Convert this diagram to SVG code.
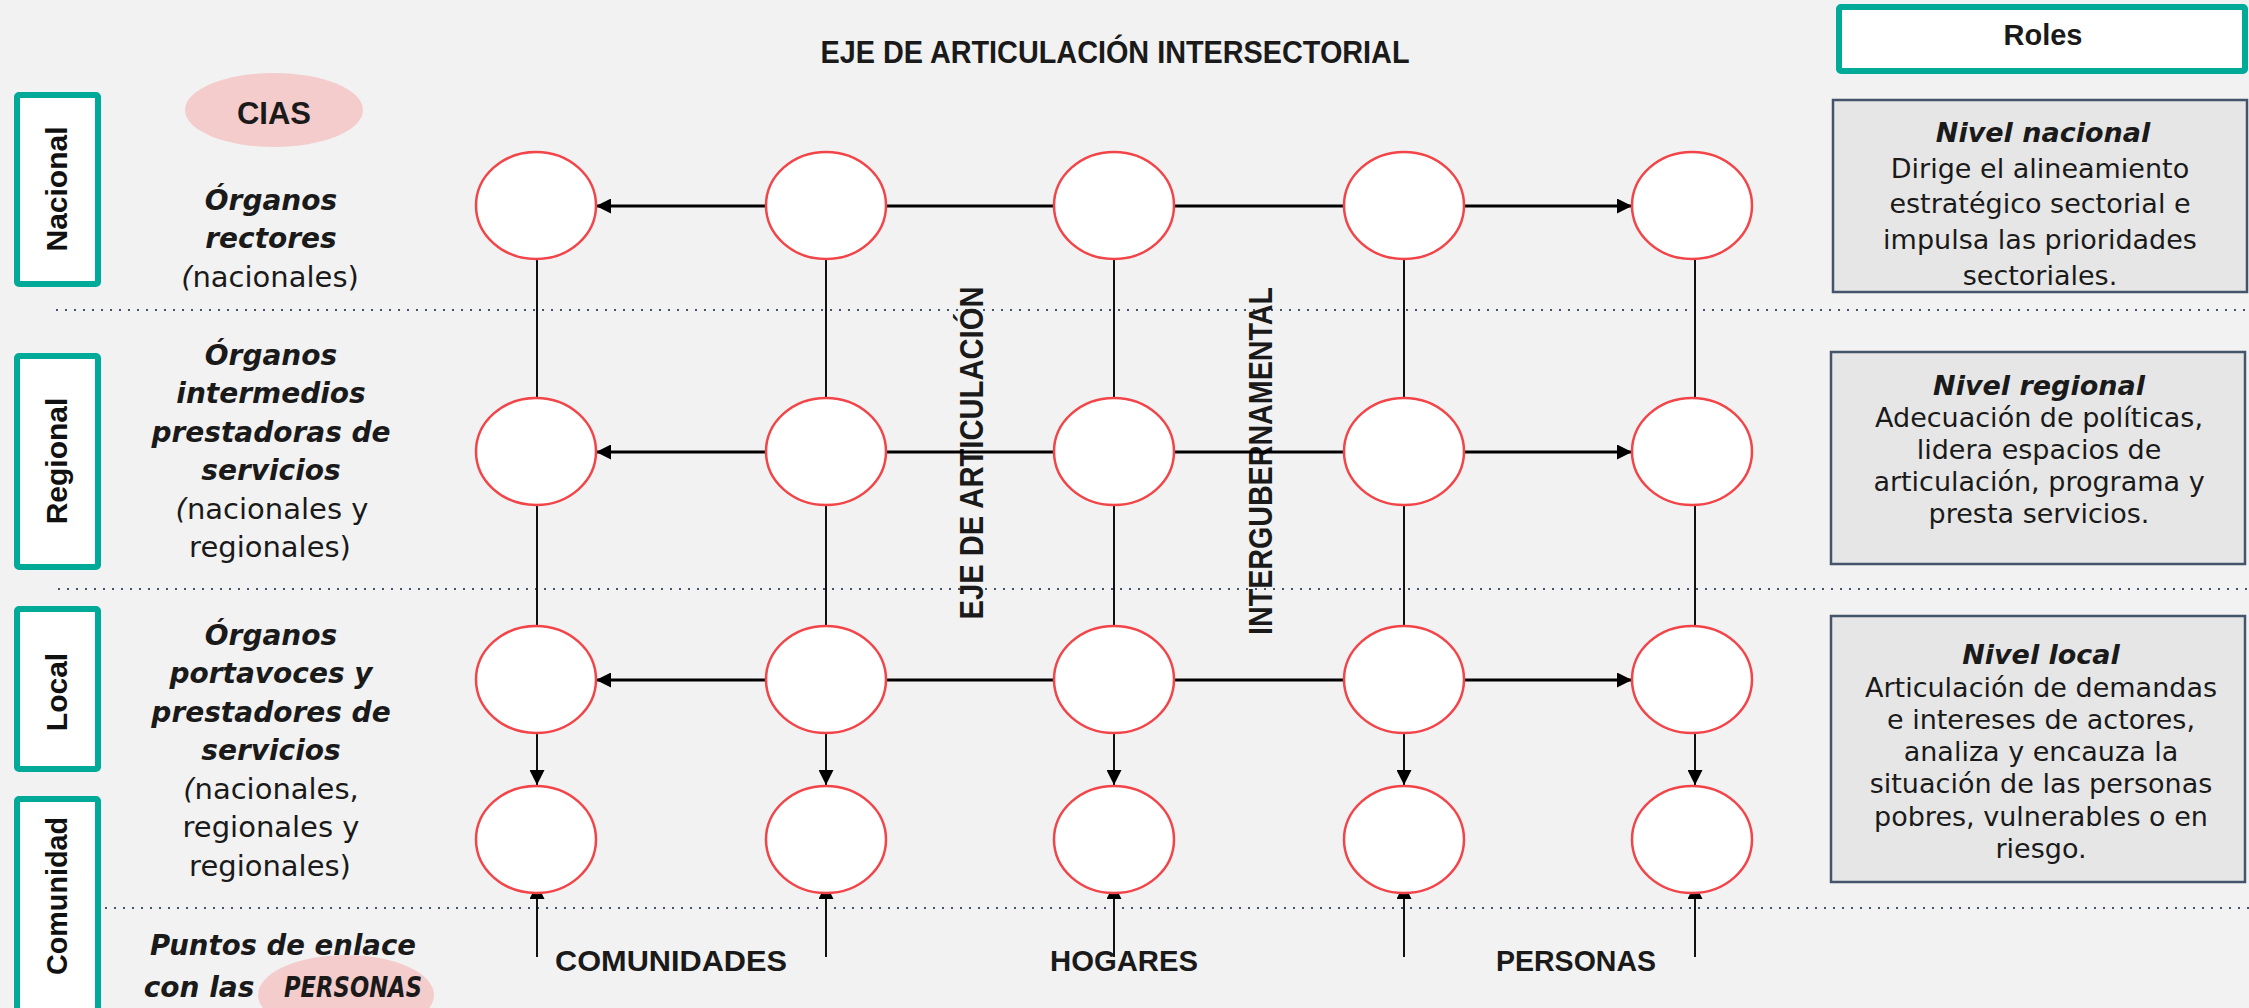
<svg xmlns="http://www.w3.org/2000/svg" width="2249" height="1008" viewBox="0 0 2249 1008">
<defs>
<style>
.lvl{fill:#FFFFFF;stroke:#00AA99;stroke-width:6}
.lvltxt{font-family:"Liberation Sans",Arial,sans-serif;font-weight:bold;font-size:30px;fill:#111111;text-anchor:middle}
.node{fill:#FFFFFF;stroke:#F24549;stroke-width:2.5}
.sep{stroke:#44546A;stroke-width:2.2;stroke-dasharray:2 7;fill:none}
.h{stroke:#000000;stroke-width:3;fill:none}
.v{stroke:#111111;stroke-width:2;fill:none}
.lbl{font-family:"DejaVu Sans",sans-serif;font-size:28px;fill:#1A1A1A;text-anchor:middle}
.bi{font-weight:bold;font-style:italic}
.rg{font-size:29px}
.cap{font-family:"Liberation Sans",Arial,sans-serif;font-weight:bold;fill:#1A1A1A;text-anchor:middle}
.role{fill:#E6E6E6;stroke:#44546A;stroke-width:2.5}
.rt{font-family:"DejaVu Sans",sans-serif;font-size:27px;fill:#1A1A1A;text-anchor:middle}
.pink{fill:#F4CCCC}
</style>
<marker id="ah" viewBox="0 0 15 15" refX="15" refY="7.5" markerWidth="15" markerHeight="15" markerUnits="userSpaceOnUse" orient="auto-start-reverse"><path d="M0,0 L15,7.5 L0,15 z" fill="#000000"/></marker>
</defs>
<rect x="0" y="0" width="2249" height="1008" fill="#F2F2F2"/>

<g id="title">
<text class="cap" x="1115" y="63" font-size="32" textLength="589" lengthAdjust="spacingAndGlyphs">EJE DE ARTICULACIÓN INTERSECTORIAL</text>
</g>

<g id="separators">
<path class="sep" d="M56,310 H2249"/>
<path class="sep" d="M58,589 H2249"/>
<path class="sep" d="M105,908 H2249"/>
</g>

<g id="level-nacional">
<rect class="lvl" x="17" y="95" width="81" height="189" rx="2"/>
<text class="lvltxt" transform="translate(67,189) rotate(-90)">Nacional</text>
</g>
<g id="level-regional">
<rect class="lvl" x="17" y="356" width="81" height="211" rx="2"/>
<text class="lvltxt" transform="translate(67,461) rotate(-90)">Regional</text>
</g>
<g id="level-local">
<rect class="lvl" x="17" y="609" width="81" height="160" rx="2"/>
<text class="lvltxt" transform="translate(67,692) rotate(-90)">Local</text>
</g>
<g id="level-comunidad">
<rect class="lvl" x="17" y="799" width="81" height="220" rx="2"/>
<text class="lvltxt" transform="translate(67,896) rotate(-90)" textLength="158" lengthAdjust="spacingAndGlyphs">Comunidad</text>
</g>

<g id="cias">
<ellipse class="pink" cx="274" cy="110" rx="89" ry="37"/>
<text class="cap" x="274" y="124" font-size="31">CIAS</text>
</g>

<g id="label-nacional">
<text class="lbl bi" x="271" y="210">Órganos</text>
<text class="lbl bi" x="271" y="248">rectores</text>
<text class="lbl rg" x="270" y="287"><tspan font-style="italic">(</tspan>nacionales)</text>
</g>
<g id="label-regional">
<text class="lbl bi" x="271" y="365">Órganos</text>
<text class="lbl bi" x="271" y="403">intermedios</text>
<text class="lbl bi" x="271" y="442">prestadoras de</text>
<text class="lbl bi" x="271" y="480">servicios</text>
<text class="lbl rg" x="272" y="519"><tspan font-style="italic">(</tspan>nacionales y</text>
<text class="lbl rg" x="270" y="557">regionales)</text>
</g>
<g id="label-local">
<text class="lbl bi" x="271" y="645">Órganos</text>
<text class="lbl bi" x="271" y="683">portavoces y</text>
<text class="lbl bi" x="271" y="722">prestadores de</text>
<text class="lbl bi" x="271" y="760">servicios</text>
<text class="lbl rg" x="271" y="799"><tspan font-style="italic">(</tspan>nacionales,</text>
<text class="lbl rg" x="271" y="837">regionales y</text>
<text class="lbl rg" x="270" y="876">regionales)</text>
</g>
<g id="label-comunidad">
<ellipse class="pink" cx="346" cy="995" rx="88" ry="40"/>
<text class="lbl bi" x="283" y="955" textLength="266" lengthAdjust="spacingAndGlyphs">Puntos de enlace</text>
<text class="lbl bi" x="199" y="997">con las</text>
<text class="lbl bi" x="353" y="997" font-size="24" textLength="138" lengthAdjust="spacingAndGlyphs">PERSONAS</text>
</g>

<g id="axis-labels">
<text class="cap" font-size="33" transform="translate(983,453) rotate(-90)" textLength="333" lengthAdjust="spacingAndGlyphs">EJE DE ARTICULACIÓN</text>
<text class="cap" font-size="33" transform="translate(1272,461) rotate(-90)" textLength="348" lengthAdjust="spacingAndGlyphs">INTERGUBERNAMENTAL</text>
</g>

<g id="connectors">
<path class="h" d="M596,206 H1632" marker-start="url(#ah)" marker-end="url(#ah)"/>
<path class="h" d="M596,452 H1632" marker-start="url(#ah)" marker-end="url(#ah)"/>
<path class="h" d="M596,680 H1632" marker-start="url(#ah)" marker-end="url(#ah)"/>
<path class="v" d="M537,259 V626 M826,259 V626 M1114,259 V626 M1404,259 V626 M1695,259 V626"/>
<path class="v" d="M537,733 V785" marker-end="url(#ah)"/>
<path class="v" d="M826,733 V785" marker-end="url(#ah)"/>
<path class="v" d="M1114,733 V785" marker-end="url(#ah)"/>
<path class="v" d="M1404,733 V785" marker-end="url(#ah)"/>
<path class="v" d="M1695,733 V785" marker-end="url(#ah)"/>
<path class="v" d="M537,957 V884" marker-end="url(#ah)"/>
<path class="v" d="M826,957 V884" marker-end="url(#ah)"/>
<path class="v" d="M1114,957 V884" marker-end="url(#ah)"/>
<path class="v" d="M1404,957 V884" marker-end="url(#ah)"/>
<path class="v" d="M1695,957 V884" marker-end="url(#ah)"/>
</g>

<g id="n-r1c1"><ellipse class="node" cx="536" cy="205.5" rx="60" ry="53.5"/></g>
<g id="n-r1c2"><ellipse class="node" cx="826" cy="205.5" rx="60" ry="53.5"/></g>
<g id="n-r1c3"><ellipse class="node" cx="1114" cy="205.5" rx="60" ry="53.5"/></g>
<g id="n-r1c4"><ellipse class="node" cx="1404" cy="205.5" rx="60" ry="53.5"/></g>
<g id="n-r1c5"><ellipse class="node" cx="1692" cy="205.5" rx="60" ry="53.5"/></g>
<g id="n-r2c1"><ellipse class="node" cx="536" cy="451.5" rx="60" ry="53.5"/></g>
<g id="n-r2c2"><ellipse class="node" cx="826" cy="451.5" rx="60" ry="53.5"/></g>
<g id="n-r2c3"><ellipse class="node" cx="1114" cy="451.5" rx="60" ry="53.5"/></g>
<g id="n-r2c4"><ellipse class="node" cx="1404" cy="451.5" rx="60" ry="53.5"/></g>
<g id="n-r2c5"><ellipse class="node" cx="1692" cy="451.5" rx="60" ry="53.5"/></g>
<g id="n-r3c1"><ellipse class="node" cx="536" cy="679.5" rx="60" ry="53.5"/></g>
<g id="n-r3c2"><ellipse class="node" cx="826" cy="679.5" rx="60" ry="53.5"/></g>
<g id="n-r3c3"><ellipse class="node" cx="1114" cy="679.5" rx="60" ry="53.5"/></g>
<g id="n-r3c4"><ellipse class="node" cx="1404" cy="679.5" rx="60" ry="53.5"/></g>
<g id="n-r3c5"><ellipse class="node" cx="1692" cy="679.5" rx="60" ry="53.5"/></g>
<g id="n-r4c1"><ellipse class="node" cx="536" cy="839.5" rx="60" ry="53.5"/></g>
<g id="n-r4c2"><ellipse class="node" cx="826" cy="839.5" rx="60" ry="53.5"/></g>
<g id="n-r4c3"><ellipse class="node" cx="1114" cy="839.5" rx="60" ry="53.5"/></g>
<g id="n-r4c4"><ellipse class="node" cx="1404" cy="839.5" rx="60" ry="53.5"/></g>
<g id="n-r4c5"><ellipse class="node" cx="1692" cy="839.5" rx="60" ry="53.5"/></g>

<g id="bottom-labels">
<text class="cap" x="671" y="971" font-size="30" textLength="232" lengthAdjust="spacingAndGlyphs">COMUNIDADES</text>
<text class="cap" x="1124" y="971" font-size="30" textLength="148" lengthAdjust="spacingAndGlyphs">HOGARES</text>
<text class="cap" x="1576" y="971" font-size="30" textLength="160" lengthAdjust="spacingAndGlyphs">PERSONAS</text>
</g>

<g id="roles-header">
<rect class="lvl" x="1839" y="7" width="406" height="64" rx="2"/>
<text class="cap" x="2043" y="45" font-size="29">Roles</text>
</g>
<g id="role-nacional">
<rect class="role" x="1833" y="100" width="414" height="192"/>
<text class="rt bi" x="2043" y="142" font-size="28">Nivel nacional</text>
<text class="rt" x="2040" y="178" font-size="28">Dirige el alineamiento</text>
<text class="rt" x="2040" y="213" font-size="28">estratégico sectorial e</text>
<text class="rt" x="2040" y="249" font-size="28">impulsa las prioridades</text>
<text class="rt" x="2040" y="285" font-size="28">sectoriales.</text>
</g>
<g id="role-regional">
<rect class="role" x="1831" y="352" width="414" height="212"/>
<text class="rt bi" x="2039" y="395" font-size="28">Nivel regional</text>
<text class="rt" x="2039" y="427">Adecuación de políticas,</text>
<text class="rt" x="2039" y="459">lidera espacios de</text>
<text class="rt" x="2039" y="491">articulación, programa y</text>
<text class="rt" x="2039" y="523">presta servicios.</text>
</g>
<g id="role-local">
<rect class="role" x="1831" y="616" width="414" height="266"/>
<text class="rt bi" x="2041" y="664" font-size="28">Nivel local</text>
<text class="rt" x="2041" y="697">Articulación de demandas</text>
<text class="rt" x="2041" y="729">e intereses de actores,</text>
<text class="rt" x="2041" y="761">analiza y encauza la</text>
<text class="rt" x="2041" y="793">situación de las personas</text>
<text class="rt" x="2041" y="826">pobres, vulnerables o en</text>
<text class="rt" x="2041" y="858">riesgo.</text>
</g>
</svg>
